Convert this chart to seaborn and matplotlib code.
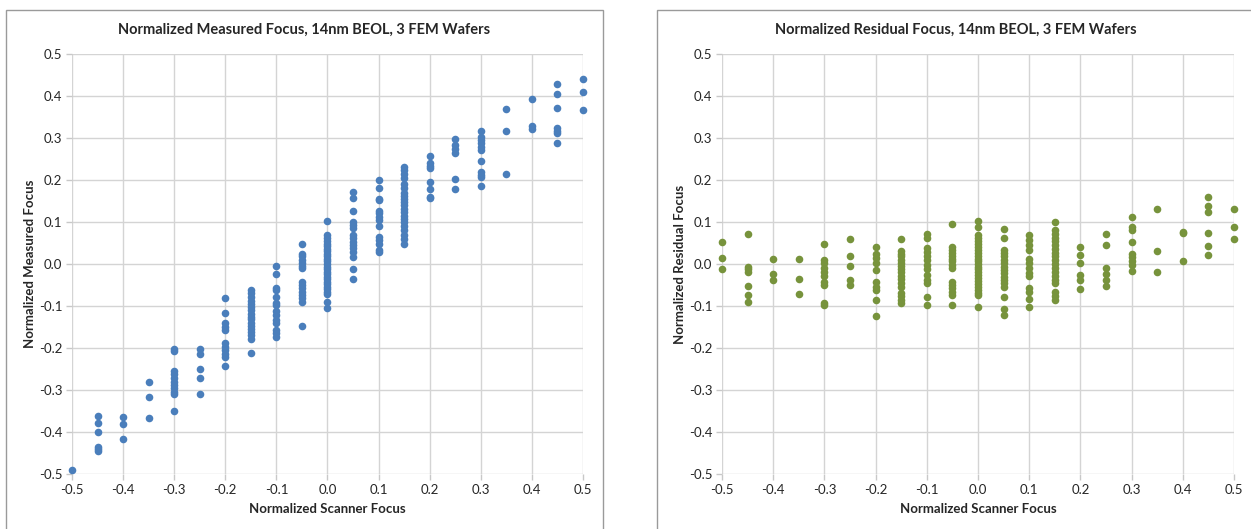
import pandas as pd
import matplotlib
matplotlib.use('Agg')
import matplotlib.pyplot as plt
import seaborn as sns
from matplotlib.patches import Rectangle

sns.set_style('white')
plt.rcParams['font.family'] = ['Lato', 'DejaVu Sans']

# Scanner focus levels (x) and the values
scanner_levels = [-0.5, -0.45, -0.4, -0.35, -0.3, -0.25, -0.2, -0.15, -0.1, -0.05,
                  0.0, 0.05, 0.1, 0.15, 0.2, 0.25, 0.3, 0.35, 0.4, 0.45, 0.5]

measured_focus = [
    [-0.490],
    [-0.361, -0.379, -0.401, -0.435, -0.441, -0.445],
    [-0.365, -0.380, -0.417],
    [-0.281, -0.317, -0.366],
    [-0.203, -0.206, -0.254, -0.262, -0.272, -0.280, -0.288, -0.296, -0.304, -0.310, -0.350],
    [-0.203, -0.214, -0.250, -0.272, -0.310],
    [-0.080, -0.117, -0.141, -0.151, -0.157, -0.187, -0.198, -0.205, -0.214, -0.222, -0.244],
    [-0.062, -0.070, -0.078, -0.088, -0.095, -0.103, -0.110, -0.118, -0.125, -0.132,
     -0.140, -0.148, -0.155, -0.162, -0.170, -0.178, -0.213],
    [-0.004, -0.024, -0.056, -0.062, -0.078, -0.094, -0.098, -0.113, -0.121, -0.133,
     -0.141, -0.157, -0.165, -0.173],
    [0.047, 0.025, 0.018, 0.010, 0.002, -0.005, -0.010, -0.042, -0.050, -0.058,
     -0.066, -0.074, -0.082, -0.090, -0.147],
    [0.102, 0.069, 0.062, 0.055, 0.048, 0.042, 0.036, 0.030, 0.024, 0.018, 0.012,
     0.006, 0.000, -0.006, -0.012, -0.018, -0.024, -0.030, -0.036, -0.042, -0.048,
     -0.054, -0.060, -0.066, -0.072, -0.090, -0.104],
    [0.172, 0.156, 0.126, 0.101, 0.093, 0.085, 0.069, 0.061, 0.053, 0.045, 0.037,
     0.029, 0.017, -0.013, -0.036],
    [0.200, 0.182, 0.154, 0.152, 0.126, 0.121, 0.113, 0.105, 0.090, 0.065, 0.057,
     0.048, 0.033, 0.029],
    [0.232, 0.225, 0.215, 0.205, 0.190, 0.180, 0.170, 0.162, 0.155, 0.147, 0.140,
     0.132, 0.125, 0.115, 0.108, 0.100, 0.090, 0.080, 0.070, 0.060, 0.047],
    [0.258, 0.241, 0.233, 0.228, 0.196, 0.178, 0.160, 0.156],
    [0.298, 0.283, 0.275, 0.264, 0.202, 0.178],
    [0.317, 0.303, 0.295, 0.287, 0.279, 0.271, 0.246, 0.220, 0.212, 0.206, 0.186],
    [0.368, 0.317, 0.215],
    [0.392, 0.328, 0.322],
    [0.428, 0.405, 0.372, 0.325, 0.317, 0.311, 0.289],
    [0.440, 0.410, 0.367],
]

residual_focus = [
    [0.052, 0.015, -0.012],
    [0.072, -0.008, -0.012, -0.018, -0.052, -0.074, -0.091],
    [0.011, -0.024, -0.038],
    [0.012, -0.036, -0.071],
    [0.047, 0.010, 0.002, -0.010, -0.018, -0.029, -0.042, -0.050, -0.094, -0.098],
    [0.059, 0.019, -0.004, -0.038, -0.050],
    [0.041, 0.023, 0.014, 0.002, -0.014, -0.044, -0.054, -0.062, -0.086, -0.123],
    [0.060, 0.032, 0.025, 0.018, 0.010, 0.003, -0.005, -0.012, -0.020, -0.028,
     -0.035, -0.045, -0.054, -0.070, -0.077, -0.085, -0.093],
    [0.071, 0.061, 0.039, 0.029, 0.019, 0.010, -0.002, -0.013, -0.026, -0.038,
     -0.046, -0.078, -0.098],
    [0.095, 0.041, 0.034, 0.027, 0.020, 0.013, 0.006, -0.002, -0.010, -0.042,
     -0.050, -0.058, -0.066, -0.074, -0.098],
    [0.103, 0.089, 0.069, 0.062, 0.055, 0.048, 0.041, 0.034, 0.027, 0.020, 0.013,
     0.006, 0.000, -0.006, -0.013, -0.020, -0.027, -0.034, -0.041, -0.048, -0.055,
     -0.062, -0.069, -0.074, -0.103],
    [0.083, 0.061, 0.033, 0.026, 0.018, 0.010, 0.002, -0.006, -0.014, -0.022,
     -0.030, -0.038, -0.046, -0.054, -0.078, -0.108, -0.121],
    [0.068, 0.057, 0.045, 0.033, 0.012, 0.003, -0.010, -0.021, -0.028, -0.056,
     -0.066, -0.083, -0.102],
    [0.101, 0.081, 0.072, 0.063, 0.054, 0.045, 0.036, 0.027, 0.018, 0.009, 0.000,
     -0.009, -0.018, -0.028, -0.037, -0.046, -0.066, -0.076, -0.086],
    [0.041, 0.021, 0.003, -0.026, -0.038, -0.060],
    [0.071, 0.045, -0.010, -0.024, -0.038, -0.052],
    [0.111, 0.089, 0.081, 0.052, 0.023, 0.016, 0.007, -0.002, -0.017],
    [0.131, 0.031, -0.020],
    [0.077, 0.073, 0.006],
    [0.160, 0.137, 0.125, 0.075, 0.044, 0.021],
    [0.131, 0.087, 0.059],
]

tick_values = [-0.5, -0.4, -0.3, -0.2, -0.1, 0.0, 0.1, 0.2, 0.3, 0.4, 0.5]
tick_labels = ['-0.5', '-0.4', '-0.3', '-0.2', '-0.1', '0.0', '0.1', '0.2', '0.3', '0.4', '0.5']


def to_frame(levels, groups, col):
    rows = []
    for x, ys in zip(levels, groups):
        for y in ys:
            rows.append({'Scanner': x, col: y})
    return pd.DataFrame(rows)


df_meas = to_frame(scanner_levels, measured_focus, 'Measured')
df_res = to_frame(scanner_levels, residual_focus, 'Residual')

fig = plt.figure(figsize=(12.51, 5.29), dpi=100)
W, H = 1251, 529

# chart area borders (Excel style)
for x0, x1 in [(6, 603), (657, 1260)]:
    fig.patches.append(Rectangle((x0 / W, -0.05), (x1 - x0) / W, 1 - 10 / H + 0.05,
                                 transform=fig.transFigure, fill=False,
                                 edgecolor='#9a9a9a', linewidth=1.0))

ax1 = fig.add_axes([72 / W, 1 - 474 / H, 511 / W, 420 / H])
ax2 = fig.add_axes([722 / W, 1 - 474 / H, 512 / W, 420 / H])

sns.scatterplot(data=df_meas, x='Scanner', y='Measured', ax=ax1,
                color='#4A7EBB', s=30, linewidth=0, zorder=3)
sns.scatterplot(data=df_res, x='Scanner', y='Residual', ax=ax2,
                color='#77933C', s=30, linewidth=0, zorder=3)

for ax, ylab in [(ax1, 'Normalized Measured Focus'), (ax2, 'Normalized Residual Focus')]:
    ax.set_xlim(-0.5, 0.5)
    ax.set_ylim(-0.5, 0.5)
    ax.set_xticks(tick_values)
    ax.set_xticklabels(tick_labels)
    ax.set_yticks(tick_values)
    ax.set_yticklabels(tick_labels)
    ax.grid(True, color='#D4D4D4', linewidth=1.0)
    ax.set_axisbelow(True)
    for sp in ax.spines.values():
        sp.set_visible(False)
    ax.tick_params(axis='both', length=4, width=1, color='#C8C8C8',
                   labelsize=9.5, labelcolor='#262626', pad=3, direction='out',
                   bottom=True, left=True)
    ax.set_xlabel('Normalized Scanner Focus', fontsize=9.5, fontweight='bold',
                  color='#262626', labelpad=5)
    ax.set_ylabel(ylab, fontsize=9.5, fontweight='bold', color='#262626', labelpad=2)
    for coll in ax.collections:
        coll.set_clip_on(False)

fig.text(304.5 / W, 1 - 30 / H, 'Normalized Measured Focus, 14nm BEOL, 3 FEM Wafers',
         ha='center', va='center', fontsize=10.5, fontweight='bold', color='#262626')
fig.text(956 / W, 1 - 30 / H, 'Normalized Residual Focus, 14nm BEOL, 3 FEM Wafers',
         ha='center', va='center', fontsize=10.5, fontweight='bold', color='#262626')

plt.savefig('out.png', dpi=100)
plt.close()
